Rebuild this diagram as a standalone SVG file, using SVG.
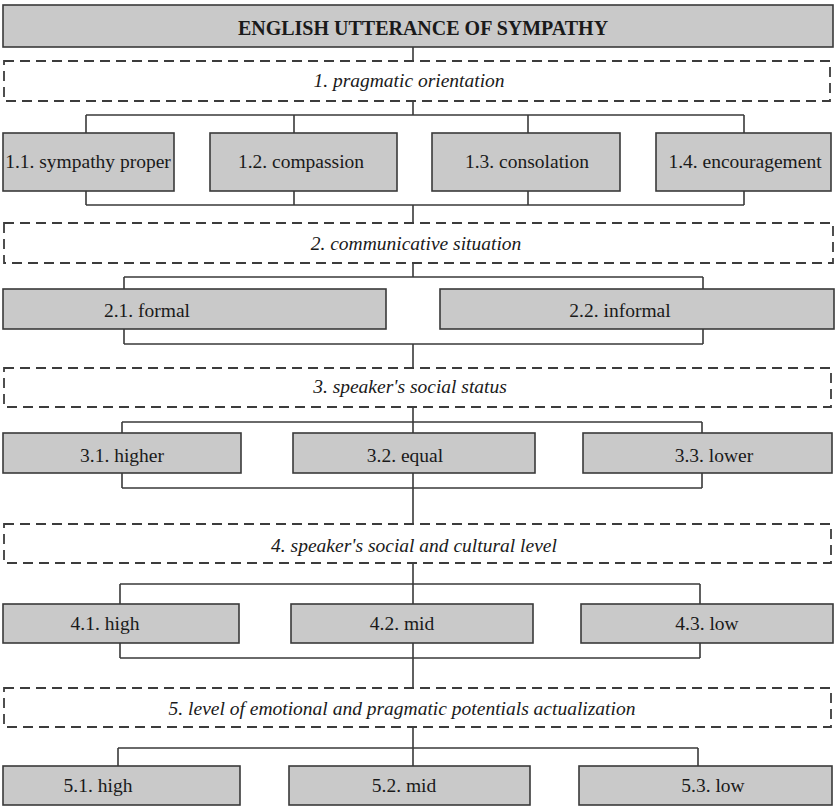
<svg xmlns="http://www.w3.org/2000/svg" width="840" height="808" viewBox="0 0 840 808">
<style>
.box{fill:#c9c9c9;stroke:#3a3a3a;stroke-width:1.6}
.dash{fill:#ffffff;stroke:#3c3c3c;stroke-width:1.8;stroke-dasharray:10 6}
.ln{fill:none;stroke:#3a3a3a;stroke-width:1.6}
.t{font-family:"Liberation Serif","Times New Roman",serif;font-size:19.5px;fill:#1a1a1a;text-anchor:middle}
.i{font-style:italic}
.b{font-weight:bold;font-size:20px}
</style>
<rect x="0" y="0" width="840" height="808" fill="#ffffff"/>
<g id="connectors">
<path class="ln" d="M413 47V61 M413 101V115 M86 115H744 M86 115V133 M294 115V133 M528 115V133 M744 115V133 M86 191V205 M294 191V205 M528 191V205 M744 191V205 M86 205H744 M413 205V223"/>
<path class="ln" d="M413 263V277 M124 277H703 M124 277V289 M703 277V289 M124 329V344 M703 329V344 M124 344H703 M413 344V368"/>
<path class="ln" d="M413 407V433 M122 422H702 M122 422V433 M702 422V433 M122 473V488 M702 473V488 M122 488H702 M413 473V524"/>
<path class="ln" d="M413 563V604 M120 584H700 M120 584V604 M700 584V604 M120 643V658 M700 643V658 M120 658H700 M413 643V688"/>
<path class="ln" d="M413 727V766 M118 748H698 M118 748V766 M698 748V766"/>
</g>
<g id="root"><rect class="box" x="3" y="5" width="830" height="42"/><text class="t b" x="423" y="35">ENGLISH UTTERANCE OF SYMPATHY</text></g>
<g id="d1"><rect class="dash" x="4" y="61" width="826" height="40"/><text class="t i" x="409" y="87">1. pragmatic orientation</text></g>
<g id="n11"><rect class="box" x="3" y="133" width="171" height="58"/><text class="t" x="88" y="168">1.1. sympathy proper</text></g>
<g id="n12"><rect class="box" x="210" y="133" width="187" height="58"/><text class="t" x="301" y="168">1.2. compassion</text></g>
<g id="n13"><rect class="box" x="432" y="133" width="188" height="58"/><text class="t" x="527" y="168">1.3. consolation</text></g>
<g id="n14"><rect class="box" x="656" y="133" width="175" height="58"/><text class="t" x="745" y="168">1.4. encouragement</text></g>
<g id="d2"><rect class="dash" x="4" y="223" width="829" height="40"/><text class="t i" x="416" y="250">2. communicative situation</text></g>
<g id="n21"><rect class="box" x="3" y="289" width="383" height="40"/><text class="t" x="147" y="317">2.1. formal</text></g>
<g id="n22"><rect class="box" x="440" y="289" width="394" height="40"/><text class="t" x="620" y="317">2.2. informal</text></g>
<g id="d3"><rect class="dash" x="4" y="368" width="827" height="39"/><text class="t i" x="410" y="393">3. speaker's social status</text></g>
<g id="n31"><rect class="box" x="3" y="433" width="238" height="40"/><text class="t" x="122" y="462">3.1. higher</text></g>
<g id="n32"><rect class="box" x="293" y="433" width="242" height="40"/><text class="t" x="405" y="462">3.2. equal</text></g>
<g id="n33"><rect class="box" x="583" y="433" width="249" height="40"/><text class="t" x="714" y="462">3.3. lower</text></g>
<g id="d4"><rect class="dash" x="4" y="524" width="827" height="39"/><text class="t i" x="414" y="552">4. speaker's social and cultural level</text></g>
<g id="n41"><rect class="box" x="3" y="604" width="236" height="39"/><text class="t" x="105" y="630">4.1. high</text></g>
<g id="n42"><rect class="box" x="291" y="604" width="242" height="39"/><text class="t" x="402" y="630">4.2. mid</text></g>
<g id="n43"><rect class="box" x="581" y="604" width="252" height="39"/><text class="t" x="707" y="630">4.3. low</text></g>
<g id="d5"><rect class="dash" x="4" y="688" width="827" height="39"/><text class="t i" x="402" y="715">5. level of emotional and pragmatic potentials actualization</text></g>
<g id="n51"><rect class="box" x="3" y="766" width="237" height="39"/><text class="t" x="98" y="792">5.1. high</text></g>
<g id="n52"><rect class="box" x="289" y="766" width="241" height="39"/><text class="t" x="404" y="792">5.2. mid</text></g>
<g id="n53"><rect class="box" x="579" y="766" width="253" height="39"/><text class="t" x="713" y="792">5.3. low</text></g>
</svg>
